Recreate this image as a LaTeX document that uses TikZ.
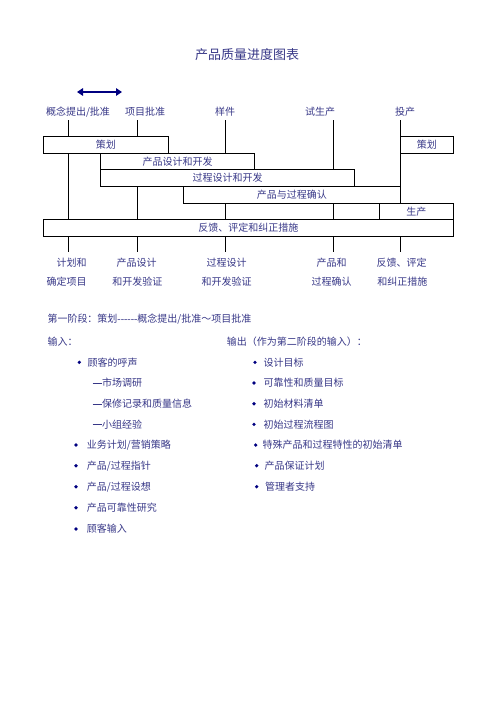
\documentclass[tikz,border=0pt]{standalone}
\usepackage{fontspec}
\setmainfont{Noto Sans CJK SC}
\newfontfamily\lat{Liberation Serif}
\usetikzlibrary{arrows.meta}
\definecolor{txt}{RGB}{55,55,135}
\definecolor{navyc}{RGB}{0,0,128}
\newcommand{\hy}{\lat-\kern0pt}
\newcommand{\longdash}{\rule[0.33em]{0.95em}{0.45pt}}
\tikzset{
  lbl/.style={inner sep=0pt, text=txt, font=\fontsize{10pt}{12pt}\selectfont},
  lblw/.style={lbl, anchor=west},
  box/.style={draw=black, line width=0.9pt, inner sep=0pt, rectangle, text=txt, font=\fontsize{10pt}{12pt}\selectfont},
  ln/.style={draw=black, line width=0.9pt},
  bul/.style={fill=navyc},
}
\begin{document}
\begin{tikzpicture}[x=1pt,y=-1pt]
\useasboundingbox (0,0) rectangle (496,702);
% title
\node[lbl, font=\fontsize{13pt}{15pt}\selectfont] (title) at (247,55) {产品质量进度图表};
% double arrow
\coordinate (al) at (77,92);
\coordinate (ar) at (122,92);
\draw[navyc, line width=2.4pt, {Triangle[length=6pt,width=7.5pt]}-{Triangle[length=6pt,width=7.5pt]}] (al) -- (ar);
% top labels
\node[lbl] (l1) at (78,112) {概念提出/批准};
\node[lbl] (l2) at (145,112) {项目批准};
\node[lbl] (l3) at (225,112) {样件};
\node[lbl] (l4) at (320,112) {试生产};
\node[lbl] (l5) at (405,112) {投产};
% boxes
\node[box, minimum width=125pt, minimum height=16.6pt] (A) at (105.8,145) {策划};
\node[box, minimum width=53pt, minimum height=16.6pt] (B) at (426.8,145) {策划};
\node[box, minimum width=153.6pt, minimum height=16pt] (C) at (177.5,161.3) {产品设计和开发};
\node[box, minimum width=253.6pt, minimum height=16.7pt] (D) at (227.5,177.65) {过程设计和开发};
\node[box, minimum width=217pt, minimum height=17.3pt] (E) at (291.8,194.65) {产品与过程确认};
\node[box, minimum width=74pt, minimum height=16pt] (F) at (416.3,211.3) {生产};
\node[box, minimum width=410pt, minimum height=16.7pt] (G) at (248.3,227.65) {反馈、评定和纠正措施};
% connector coordinates
\coordinate (t1) at (68.3,120);
\coordinate (t2) at (137.3,120);
\coordinate (t3) at (225.3,120);
\coordinate (t4) at (333.3,120);
\coordinate (t5) at (400.3,120);
\coordinate (b1) at (68.3,251.7);
\coordinate (b2) at (137.3,251.7);
\coordinate (b3) at (225.3,251.7);
\coordinate (b4) at (333.3,251.7);
\coordinate (b5) at (400.3,251.7);
% top connectors
\draw[ln] (t1) -- (t1 |- A.north);
\draw[ln] (t2) -- (t2 |- A.north);
\draw[ln] (t3) -- (t3 |- C.north);
\draw[ln] (t4) -- (t4 |- D.north);
\draw[ln] (t5) -- (t5 |- B.north);
% inner connectors
\draw[ln] (t1 |- A.south) -- (t1 |- G.north);
\draw[ln] (t2 |- D.south) -- (t2 |- G.north);
\draw[ln] (t3 |- E.south) -- (t3 |- G.north);
\draw[ln] (t4 |- E.south) -- (t4 |- G.north);
\draw[ln] (t5 |- B.south) -- (t5 |- E.north);
% bottom connectors
\draw[ln] (b1 |- G.south) -- (b1);
\draw[ln] (b2 |- G.south) -- (b2);
\draw[ln] (b3 |- G.south) -- (b3);
\draw[ln] (b4 |- G.south) -- (b4);
\draw[ln] (b5 |- G.south) -- (b5);
% bottom labels
\node[lbl] (m1a) at (71.7,262.7) {计划和};
\node[lbl] (m1b) at (66.7,281.7) {确定项目};
\node[lbl] (m2a) at (136.7,262.7) {产品设计};
\node[lbl] (m2b) at (137.3,281.7) {和开发验证};
\node[lbl] (m3a) at (226.7,262.7) {过程设计};
\node[lbl] (m3b) at (226.7,281.7) {和开发验证};
\node[lbl] (m4a) at (331.7,262.7) {产品和};
\node[lbl] (m4b) at (331.7,281.7) {过程确认};
\node[lbl] (m5a) at (401.7,262.7) {反馈、评定};
\node[lbl] (m5b) at (402.3,281.7) {和纠正措施};
% phase text
\node[lblw] (ph) at (47.3,319) {第一阶段：策划{\hy\hy\hy\hy\hy\hy}概念提出/批准～项目批准};
\node[lblw] (in) at (47.3,341.7) {输入：};
\node[lblw] (out) at (226.7,341.7) {输出（作为第二阶段的输入）：};
% left list
\fill[bul] (79.3,362.3) circle (1.8pt);
\node[lblw] (i1) at (87.3,362.3) {顾客的呼声};
\node[lblw] (i1a) at (92.3,382.7) {\longdash 市场调研};
\node[lblw] (i1b) at (92.3,403.7) {\longdash 保修记录和质量信息};
\node[lblw] (i1c) at (92.3,424.3) {\longdash 小组经验};
\fill[bul] (76,445) circle (1.8pt);
\node[lblw] (i2) at (86.7,445) {业务计划/营销策略};
\fill[bul] (76,465.7) circle (1.8pt);
\node[lblw] (i3) at (86.7,465.7) {产品/过程指针};
\fill[bul] (76,486.7) circle (1.8pt);
\node[lblw] (i4) at (86.7,486.7) {产品/过程设想};
\fill[bul] (76,507.7) circle (1.8pt);
\node[lblw] (i5) at (86.7,507.7) {产品可靠性研究};
\fill[bul] (76,529) circle (1.8pt);
\node[lblw] (i6) at (86.7,529) {顾客输入};
% right list
\fill[bul] (255,362.3) circle (1.8pt);
\node[lblw] (o1) at (263.3,362.3) {设计目标};
\fill[bul] (254,383) circle (1.8pt);
\node[lblw] (o2) at (263.3,383) {可靠性和质量目标};
\fill[bul] (254,403.7) circle (1.8pt);
\node[lblw] (o3) at (263.3,403.7) {初始材料清单};
\fill[bul] (254,424.3) circle (1.8pt);
\node[lblw] (o4) at (263.3,424.3) {初始过程流程图};
\fill[bul] (255.7,445) circle (1.8pt);
\node[lblw] (o5) at (262.3,445) {特殊产品和过程特性的初始清单};
\fill[bul] (256.7,465.7) circle (1.8pt);
\node[lblw] (o6) at (264.3,465.7) {产品保证计划};
\fill[bul] (256.7,486.7) circle (1.8pt);
\node[lblw] (o7) at (265,486.7) {管理者支持};
\end{tikzpicture}
\end{document}
